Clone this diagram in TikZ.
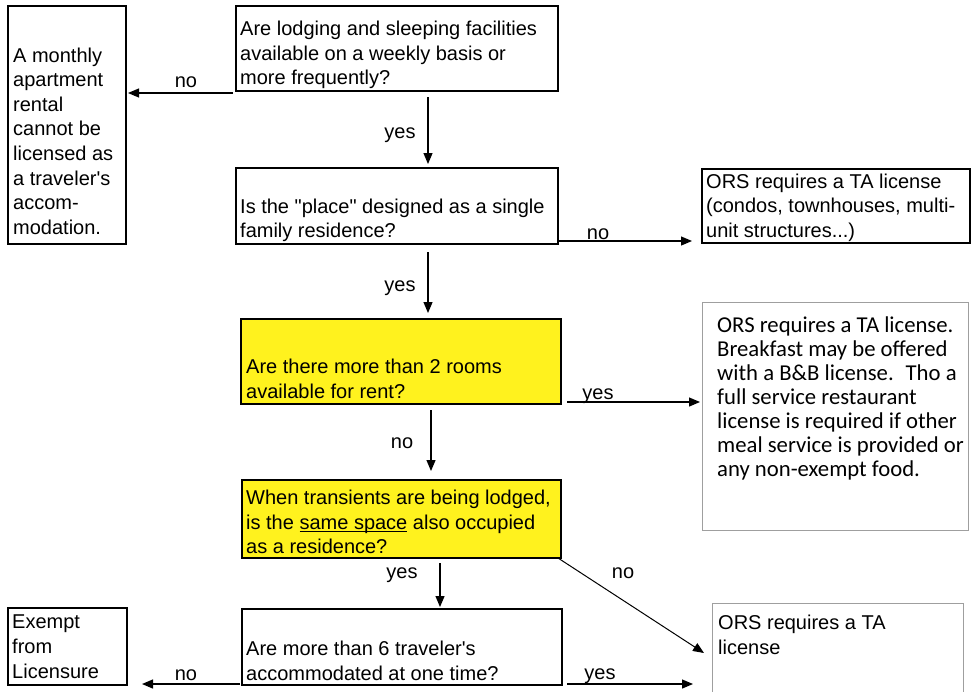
\documentclass[tikz,border=0pt]{standalone}
\usepackage{fontspec}
\usetikzlibrary{arrows.meta,calc}
\newfontfamily\arialf{Liberation Sans}
\newfontfamily\calf{Carlito}
\definecolor{qyellow}{RGB}{255,242,30}
\newsavebox\ulsave
\newcommand\ulbox[1]{\sbox\ulsave{#1}\rlap{\rule[-2.5pt]{\wd\ulsave}{1pt}}\usebox\ulsave}
\begin{document}
\begin{tikzpicture}[x=1pt,y=-1pt,
  box/.style={draw, line width=1.2pt, anchor=north west, inner sep=0, outer sep=0},
  gbox/.style={box, draw=gray!75, line width=0.8pt},
  ybox/.style={box, fill=qyellow},
  txt/.style={anchor=north west, inner sep=0, align=left,
    font=\arialf\fontsize{20}{24.6}\selectfont,
    execute at begin node={\rule{0pt}{16pt}}},
  ctxt/.style={txt, font=\calf\fontsize{22.7}{24}\selectfont},
  lbl/.style={anchor=base, inner sep=0, font=\arialf\fontsize{20}{24}\selectfont},
  tip/.style={-{Triangle[length=11pt,width=9pt]}},
  arr/.style={line width=1.2pt, tip}]
\clip (0,0) rectangle (971,691);
\fill[white] (0,0) rectangle (971,691);
% boxes
\node[box, minimum width=118, minimum height=238] (a) at (8,6) {};
\node[box, minimum width=322, minimum height=85] (q1) at (236,6) {};
\node[box, minimum width=322, minimum height=76] (q2) at (236,168) {};
\node[box, minimum width=268, minimum height=74] (r2) at (702,169) {};
\node[ybox, minimum width=320, minimum height=85] (q3) at (241,319) {};
\node[gbox, minimum width=266, minimum height=228] (r3) at (702,302) {};
\node[ybox, minimum width=319, minimum height=78] (q4) at (242,480) {};
\node[box, minimum width=320, minimum height=76] (q5) at (242,609) {};
\node[box, minimum width=119, minimum height=77] (e) at (8,608) {};
\node[gbox, minimum width=251, minimum height=97] (r5) at (712,603) {};
% texts
\node[txt] (ta) at (13,47.5) {A monthly\\apartment\\rental\\cannot be\\licensed as\\a traveler's\\accom-\\modation.};
\node[txt] (tq1) at (240,21) {Are lodging and sleeping facilities\\available on a weekly basis or\\more frequently?};
\node[txt] (tq2) at (240,198.5) {Is the "place" designed as a single\\family residence?};
\node[txt] (tr2) at (706,173.5) {ORS requires a TA license\\(condos, townhouses, multi-\\unit structures...)};
\node[txt] (tq3) at (246,359) {Are there more than 2 rooms\\available for rent?};
\node[ctxt] (tr3) at (717,317) {ORS requires a TA license.\\Breakfast may be offered\\with a B\&B license.~ Tho a\\full service restaurant\\license is required if other\\meal service is provided or\\any non-exempt food.};
\node[txt] (tq4) at (246,490) {When transients are being lodged,\\is the \ulbox{same space} also occupied\\as a residence?};
\node[txt] (tq5) at (246,641) {Are more than 6 traveler's\\accommodated at one time?};
\node[txt] (te) at (12,615) {Exempt\\from\\Licensure};
\node[txt] (tr5) at (718,615) {ORS requires a TA\\license};
% connectors
\draw[arr] ($(q1.south west)+(-3,2)$) -- ($(q1.south west -| a.east)+(2,2)$);
\node[lbl] (l1) at (186,87) {no};
\draw[arr] ($(q1.south)+(31,6)$) -- ($(q2.north)+(31,-4)$);
\node[lbl] (l2) at (400,138) {yes};
\draw[arr] ($(q2.south east)+(0,-3)$) -- ($(q2.south east -| r2.west)+(-10,-3)$);
\node[lbl] (l3) at (598,239) {no};
\draw[arr] ($(q2.south)+(31,8)$) -- ($(q3.north)+(27,-6)$);
\node[lbl] (l4) at (400,291) {yes};
\draw[arr] ($(q3.south east)+(6,-2)$) -- ($(q3.south east -| r3.west)+(-2,-2)$);
\node[lbl] (l5) at (598,399) {yes};
\draw[arr] ($(q3.south)+(30,6)$) -- ($(q4.north)+(29.5,-9)$);
\node[lbl] (l6) at (402,448) {no};
\draw[arr] ($(q4.south)+(38.5,5)$) -- ($(q5.north)+(38,-2)$);
\node[lbl] (l7) at (402,578) {yes};
\draw[line width=1pt, tip] ($(q4.south east)+(-3,0)$) -- ($(r5.west)+(-8,1.5)$);
\node[lbl] (l8) at (623,578) {no};
\draw[arr] ($(q5.south west)+(-2,-1)$) -- ($(q5.south west -| e.east)+(15,-1)$);
\node[lbl] (l9) at (186,680) {no};
\draw[arr] ($(q5.south east)+(5,-1)$) -- ($(q5.south east -| r5.west)+(-19,-1)$);
\node[lbl] (l10) at (600,679) {yes};
\end{tikzpicture}
\end{document}
